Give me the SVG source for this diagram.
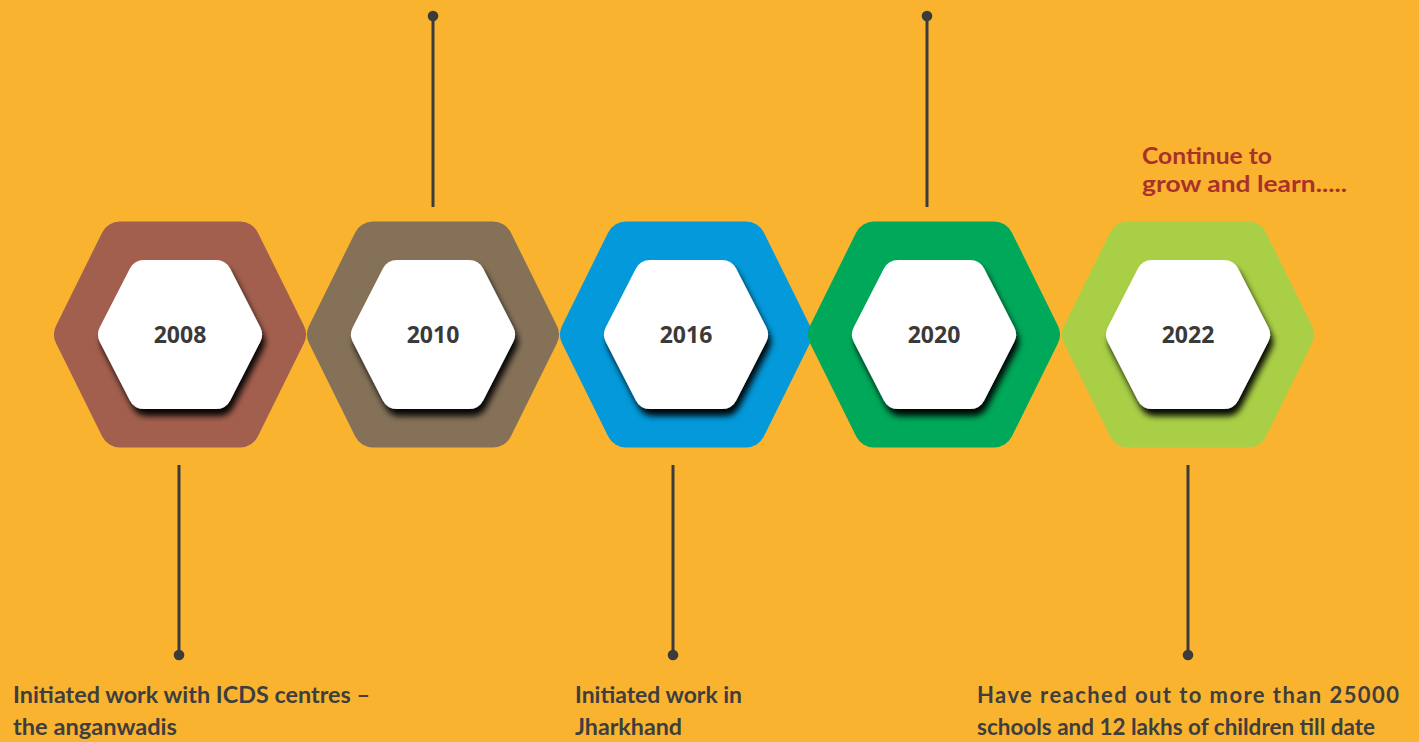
<svg xmlns="http://www.w3.org/2000/svg" xmlns:xlink="http://www.w3.org/1999/xlink" width="1419" height="742" viewBox="0 0 1419 742">
  <defs>
    <style>
      .outer { stroke-width: 40; stroke-linejoin: round; }
      .inner { fill: #ffffff; stroke: #ffffff; stroke-width: 32; stroke-linejoin: round; filter: url(#lift); }
      .year { font-family: "Open Sans", "Liberation Sans", sans-serif; font-weight: 700; font-size: 23px; fill: #3a3a3a; text-anchor: middle; }
      .note { font-family: "Lato", "Liberation Sans", sans-serif; font-weight: 700; font-size: 22px; fill: #3e3e3e; }
      .accent { fill: #a8312c; }
      .stem { stroke: #3b3b3b; stroke-width: 3; fill: none; }
      .dot { fill: #3b3b3b; }
      .c1 { fill: #a35f4e; stroke: #a35f4e; }
      .c2 { fill: #857158; stroke: #857158; }
      .c3 { fill: #0399da; stroke: #0399da; }
      .c4 { fill: #00a859; stroke: #00a859; }
      .c5 { fill: #a9cf46; stroke: #a9cf46; }
    </style>
    <filter id="lift" x="-30%" y="-30%" width="160%" height="160%">
      <feDropShadow dx="3" dy="7" stdDeviation="3" flood-color="#000000" flood-opacity="0.95"/>
    </filter>
    <polygon id="hexOuter" points="-106,0 -60,-93 60,-93 106,0 60,93 -60,93"/>
    <polygon id="hexInner" points="-66,0 -36,-58.5 36,-58.5 66,0 36,58.5 -36,58.5"/>
  </defs>

  <rect x="0" y="0" width="1419" height="742" fill="#fab32f"/>

  <!-- stems joining each year to its note -->
  <g id="connectors">
    <line class="stem" x1="433" y1="16" x2="433" y2="207"/>
    <circle class="dot" cx="433" cy="16" r="5.3"/>
    <line class="stem" x1="927" y1="16" x2="927" y2="207"/>
    <circle class="dot" cx="927" cy="16" r="5.3"/>
    <line class="stem" x1="179" y1="465" x2="179" y2="655"/>
    <circle class="dot" cx="179" cy="655" r="5.3"/>
    <line class="stem" x1="673" y1="465" x2="673" y2="655"/>
    <circle class="dot" cx="673" cy="655" r="5.3"/>
    <line class="stem" x1="1188" y1="465" x2="1188" y2="655"/>
    <circle class="dot" cx="1188" cy="655" r="5.3"/>
  </g>

  <g id="node-2008" transform="translate(180 334.5)">
    <use href="#hexOuter" class="outer c1"/>
    <use href="#hexInner" class="inner"/>
    <text class="year" x="0" y="8.5">2008</text>
  </g>

  <g id="node-2010" transform="translate(433 334.5)">
    <use href="#hexOuter" class="outer c2"/>
    <use href="#hexInner" class="inner"/>
    <text class="year" x="0" y="8.5">2010</text>
  </g>

  <g id="node-2016" transform="translate(686 334.5)">
    <use href="#hexOuter" class="outer c3"/>
    <use href="#hexInner" class="inner"/>
    <text class="year" x="0" y="8.5">2016</text>
  </g>

  <g id="node-2020" transform="translate(934 334.5)">
    <use href="#hexOuter" class="outer c4"/>
    <use href="#hexInner" class="inner"/>
    <text class="year" x="0" y="8.5">2020</text>
  </g>

  <g id="node-2022" transform="translate(1188 334.5)">
    <use href="#hexOuter" class="outer c5"/>
    <use href="#hexInner" class="inner"/>
    <text class="year" x="0" y="8.5">2022</text>
  </g>

  <!-- milestone notes -->
  <g id="note-2008">
    <text class="note" x="13" y="703" textLength="357" lengthAdjust="spacingAndGlyphs">Initiated work with ICDS centres –</text>
    <text class="note" x="13" y="735" textLength="164" lengthAdjust="spacingAndGlyphs">the anganwadis</text>
  </g>
  <g id="note-2016">
    <text class="note" x="575" y="703" textLength="167" lengthAdjust="spacingAndGlyphs">Initiated work in</text>
    <text class="note" x="575" y="735" textLength="107" lengthAdjust="spacingAndGlyphs">Jharkhand</text>
  </g>
  <g id="note-2022">
    <text class="note" x="977" y="703" textLength="422" lengthAdjust="spacing">Have reached out to more than 25000</text>
    <text class="note" x="977" y="735" textLength="398" lengthAdjust="spacingAndGlyphs">schools and 12 lakhs of children till date</text>
  </g>
  <g id="note-future">
    <text class="note accent" x="1142" y="164" textLength="130" lengthAdjust="spacingAndGlyphs">Continue to</text>
    <text class="note accent" x="1142" y="192" textLength="205" lengthAdjust="spacingAndGlyphs">grow and learn.....</text>
  </g>
</svg>
